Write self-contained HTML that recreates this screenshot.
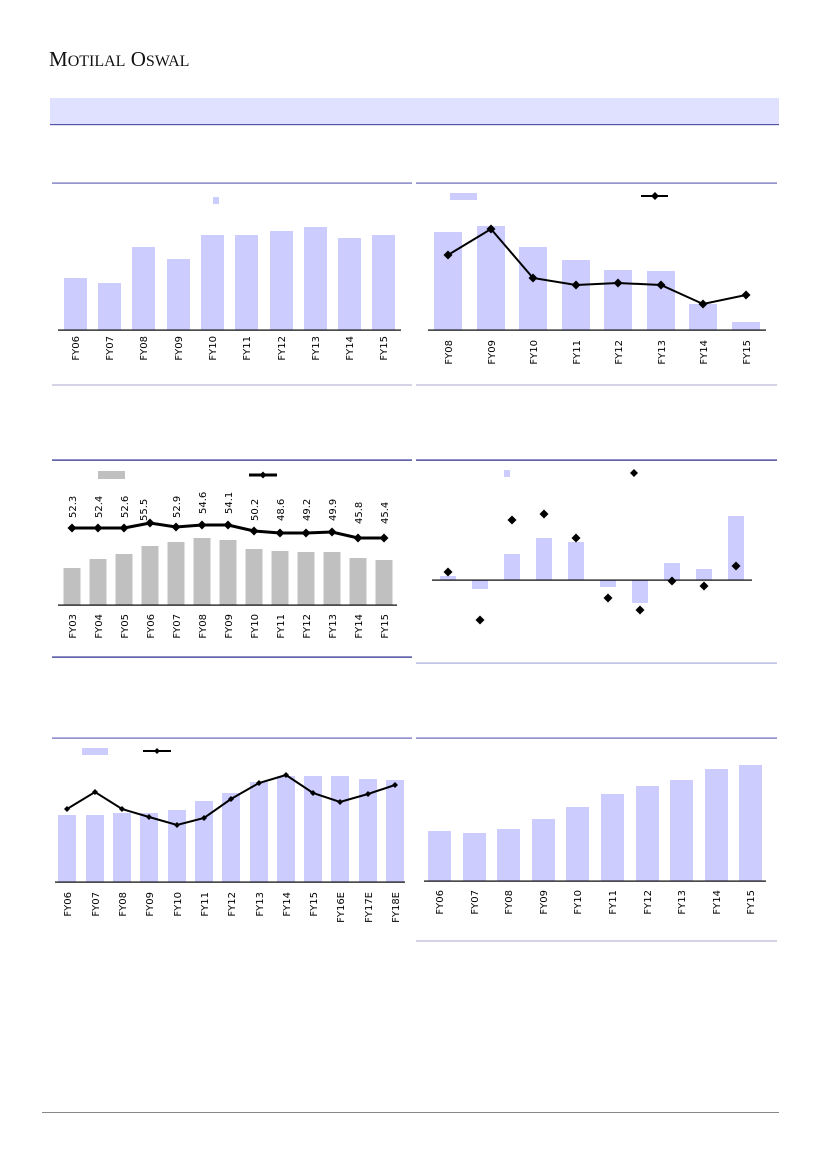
<!DOCTYPE html>
<html><head><meta charset="utf-8"><style>
html,body{margin:0;padding:0;background:#fff;}
svg{display:block;}
.l{font-family:"DejaVu Sans","Liberation Sans",sans-serif;font-size:10px;fill:#000;}
</style></head><body>
<svg width="827" height="1169" viewBox="0 0 827 1169" xmlns="http://www.w3.org/2000/svg">
<text x="49" y="66" font-family="Liberation Serif,serif" font-size="21" fill="#111">M<tspan font-size="16">OTILAL</tspan> O<tspan font-size="16">SWAL</tspan></text>
<rect x="50" y="98" width="729" height="26" fill="#e0e0ff"/>
<rect x="50" y="124" width="729" height="1.2" fill="#5555aa"/>
<rect x="42" y="1112" width="737" height="1" fill="#888"/>

<!-- Chart 1 -->
<rect x="52" y="182.5" width="360" height="1.2" fill="#6666bb"/>
<rect x="52" y="384.5" width="360" height="1" fill="#aaaacc"/>
<rect x="213" y="197" width="6" height="7" fill="#ccccff"/>
<g fill="#ccccff">
<rect x="64" y="278" width="23" height="52"/><rect x="98" y="283" width="23" height="47"/><rect x="132" y="247" width="23" height="83"/><rect x="167" y="259" width="23" height="71"/><rect x="201" y="235" width="23" height="95"/><rect x="235" y="235" width="23" height="95"/><rect x="270" y="231" width="23" height="99"/><rect x="304" y="227" width="23" height="103"/><rect x="338" y="238" width="23" height="92"/><rect x="372" y="235" width="23" height="95"/>
</g>
<rect x="58" y="329.5" width="343" height="1.2" fill="#000"/>
<g class="l" text-anchor="end">
<text transform="translate(79,336) rotate(-90)">FY06</text><text transform="translate(113,336) rotate(-90)">FY07</text><text transform="translate(147,336) rotate(-90)">FY08</text><text transform="translate(182,336) rotate(-90)">FY09</text><text transform="translate(216,336) rotate(-90)">FY10</text><text transform="translate(250,336) rotate(-90)">FY11</text><text transform="translate(285,336) rotate(-90)">FY12</text><text transform="translate(319,336) rotate(-90)">FY13</text><text transform="translate(353,336) rotate(-90)">FY14</text><text transform="translate(387,336) rotate(-90)">FY15</text>
</g>

<!-- Chart 2 -->
<rect x="416" y="182.5" width="361" height="1.2" fill="#6666bb"/>
<rect x="416" y="384.5" width="361" height="1" fill="#aaaacc"/>
<rect x="450" y="193" width="27" height="7" fill="#ccccff"/>
<line x1="641" y1="196" x2="668" y2="196" stroke="#000" stroke-width="2"/>
<path d="M655 192l4 4-4 4-4-4z" fill="#000"/>
<g fill="#ccccff">
<rect x="434" y="232" width="28" height="98"/><rect x="477" y="226" width="28" height="104"/><rect x="519" y="247" width="28" height="83"/><rect x="562" y="260" width="28" height="70"/><rect x="604" y="270" width="28" height="60"/><rect x="647" y="271" width="28" height="59"/><rect x="689" y="304" width="28" height="26"/><rect x="732" y="322" width="28" height="8"/>
</g>
<rect x="428" y="329.5" width="338" height="1.2" fill="#000"/>
<polyline points="448,255 491,229 533,278 576,285 618,283 661,285 703,304 746,295" fill="none" stroke="#000" stroke-width="2"/>
<g fill="#000"><path d="M448 250.5l4.5 4.5-4.5 4.5-4.5-4.5z"/><path d="M491 224.5l4.5 4.5-4.5 4.5-4.5-4.5z"/><path d="M533 273.5l4.5 4.5-4.5 4.5-4.5-4.5z"/><path d="M576 280.5l4.5 4.5-4.5 4.5-4.5-4.5z"/><path d="M618 278.5l4.5 4.5-4.5 4.5-4.5-4.5z"/><path d="M661 280.5l4.5 4.5-4.5 4.5-4.5-4.5z"/><path d="M703 299.5l4.5 4.5-4.5 4.5-4.5-4.5z"/><path d="M746 290.5l4.5 4.5-4.5 4.5-4.5-4.5z"/></g>
<g class="l" text-anchor="end">
<text transform="translate(452,340) rotate(-90)">FY08</text><text transform="translate(495,340) rotate(-90)">FY09</text><text transform="translate(537,340) rotate(-90)">FY10</text><text transform="translate(580,340) rotate(-90)">FY11</text><text transform="translate(622,340) rotate(-90)">FY12</text><text transform="translate(665,340) rotate(-90)">FY13</text><text transform="translate(707,340) rotate(-90)">FY14</text><text transform="translate(750,340) rotate(-90)">FY15</text>
</g>

<!-- Chart 3 -->
<rect x="52" y="459.5" width="360" height="1.2" fill="#222288"/>
<rect x="52" y="656.5" width="360" height="1.2" fill="#222288"/>
<rect x="98" y="471" width="27" height="8" fill="#c0c0c0"/>
<line x1="249" y1="475" x2="277" y2="475" stroke="#000" stroke-width="3"/>
<path d="M263 471.5l3.5 3.5-3.5 3.5-3.5-3.5z" fill="#000"/>
<g fill="#c0c0c0">
<rect x="63.5" y="568" width="17" height="37"/><rect x="89.5" y="559" width="17" height="46"/><rect x="115.5" y="554" width="17" height="51"/><rect x="141.5" y="546" width="17" height="59"/><rect x="167.5" y="542" width="17" height="63"/><rect x="193.5" y="538" width="17" height="67"/><rect x="219.5" y="540" width="17" height="65"/><rect x="245.5" y="549" width="17" height="56"/><rect x="271.5" y="551" width="17" height="54"/><rect x="297.5" y="552" width="17" height="53"/><rect x="323.5" y="552" width="17" height="53"/><rect x="349.5" y="558" width="17" height="47"/><rect x="375.5" y="560" width="17" height="45"/>
</g>
<rect x="58" y="604.5" width="339" height="1.2" fill="#000"/>
<polyline points="72,528 98,528 124,528 150,523 176,527 202,525 228,525 254,531 280,533 306,533 332,532 358,538 384,538" fill="none" stroke="#000" stroke-width="3"/>
<g fill="#000"><path d="M72 523.5l4.5 4.5-4.5 4.5-4.5-4.5z"/><path d="M98 523.5l4.5 4.5-4.5 4.5-4.5-4.5z"/><path d="M124 523.5l4.5 4.5-4.5 4.5-4.5-4.5z"/><path d="M150 518.5l4.5 4.5-4.5 4.5-4.5-4.5z"/><path d="M176 522.5l4.5 4.5-4.5 4.5-4.5-4.5z"/><path d="M202 520.5l4.5 4.5-4.5 4.5-4.5-4.5z"/><path d="M228 520.5l4.5 4.5-4.5 4.5-4.5-4.5z"/><path d="M254 526.5l4.5 4.5-4.5 4.5-4.5-4.5z"/><path d="M280 528.5l4.5 4.5-4.5 4.5-4.5-4.5z"/><path d="M306 528.5l4.5 4.5-4.5 4.5-4.5-4.5z"/><path d="M332 527.5l4.5 4.5-4.5 4.5-4.5-4.5z"/><path d="M358 533.5l4.5 4.5-4.5 4.5-4.5-4.5z"/><path d="M384 533.5l4.5 4.5-4.5 4.5-4.5-4.5z"/></g>
<g class="l" text-anchor="start">
<text transform="translate(76,518) rotate(-90)">52.3</text><text transform="translate(102,518) rotate(-90)">52.4</text><text transform="translate(128,518) rotate(-90)">52.6</text><text transform="translate(147,521) rotate(-90)">55.5</text><text transform="translate(180,518) rotate(-90)">52.9</text><text transform="translate(206,514) rotate(-90)">54.6</text><text transform="translate(232,514) rotate(-90)">54.1</text><text transform="translate(258,521) rotate(-90)">50.2</text><text transform="translate(284,521) rotate(-90)">48.6</text><text transform="translate(310,521) rotate(-90)">49.2</text><text transform="translate(336,521) rotate(-90)">49.9</text><text transform="translate(362,524) rotate(-90)">45.8</text><text transform="translate(388,524) rotate(-90)">45.4</text>
</g>
<g class="l" text-anchor="end">
<text transform="translate(76,614) rotate(-90)">FY03</text><text transform="translate(102,614) rotate(-90)">FY04</text><text transform="translate(128,614) rotate(-90)">FY05</text><text transform="translate(154,614) rotate(-90)">FY06</text><text transform="translate(180,614) rotate(-90)">FY07</text><text transform="translate(206,614) rotate(-90)">FY08</text><text transform="translate(232,614) rotate(-90)">FY09</text><text transform="translate(258,614) rotate(-90)">FY10</text><text transform="translate(284,614) rotate(-90)">FY11</text><text transform="translate(310,614) rotate(-90)">FY12</text><text transform="translate(336,614) rotate(-90)">FY13</text><text transform="translate(362,614) rotate(-90)">FY14</text><text transform="translate(388,614) rotate(-90)">FY15</text>
</g>

<!-- Chart 4 -->
<rect x="416" y="459.5" width="361" height="1.2" fill="#222288"/>
<rect x="416" y="662.5" width="361" height="1.2" fill="#aaaadd"/>
<rect x="504" y="470" width="6" height="7" fill="#ccccff"/>
<g fill="#ccccff">
<rect x="440" y="576" width="16" height="4"/><rect x="472" y="580" width="16" height="9"/><rect x="504" y="554" width="16" height="26"/><rect x="536" y="538" width="16" height="42"/><rect x="568" y="542" width="16" height="38"/><rect x="600" y="580" width="16" height="7"/><rect x="632" y="580" width="16" height="23"/><rect x="664" y="563" width="16" height="17"/><rect x="696" y="569" width="16" height="11"/><rect x="728" y="516" width="16" height="64"/>
</g>
<rect x="432" y="579.5" width="320" height="1.2" fill="#000"/>
<g fill="#000"><path d="M634 469l4 4-4 4-4-4z"/><path d="M448 567.5l4.5 4.5-4.5 4.5-4.5-4.5z"/><path d="M480 615.5l4.5 4.5-4.5 4.5-4.5-4.5z"/><path d="M512 515.5l4.5 4.5-4.5 4.5-4.5-4.5z"/><path d="M544 509.5l4.5 4.5-4.5 4.5-4.5-4.5z"/><path d="M576 533.5l4.5 4.5-4.5 4.5-4.5-4.5z"/><path d="M608 593.5l4.5 4.5-4.5 4.5-4.5-4.5z"/><path d="M640 605.5l4.5 4.5-4.5 4.5-4.5-4.5z"/><path d="M672 576.5l4.5 4.5-4.5 4.5-4.5-4.5z"/><path d="M704 581.5l4.5 4.5-4.5 4.5-4.5-4.5z"/><path d="M736 561.5l4.5 4.5-4.5 4.5-4.5-4.5z"/></g>

<!-- Chart 5 -->
<rect x="52" y="737.5" width="360" height="1.2" fill="#6666bb"/>
<rect x="82" y="748" width="26" height="7" fill="#ccccff"/>
<line x1="143" y1="751" x2="171" y2="751" stroke="#000" stroke-width="2"/>
<path d="M157 748l3 3-3 3-3-3z" fill="#000"/>
<g fill="#ccccff">
<rect x="58" y="815" width="18" height="67"/><rect x="86" y="815" width="18" height="67"/><rect x="113" y="813" width="18" height="69"/><rect x="140" y="813" width="18" height="69"/><rect x="168" y="810" width="18" height="72"/><rect x="195" y="801" width="18" height="81"/><rect x="222" y="793" width="18" height="89"/><rect x="250" y="782" width="18" height="100"/><rect x="277" y="776" width="18" height="106"/><rect x="304" y="776" width="18" height="106"/><rect x="331" y="776" width="18" height="106"/><rect x="359" y="779" width="18" height="103"/><rect x="386" y="780" width="18" height="102"/>
</g>
<rect x="55" y="881.5" width="350" height="1.2" fill="#000"/>
<polyline points="67,809 95,792 122,809 149,817 177,825 204,818 231,799 259,783 286,775 313,793 340,802 368,794 395,785" fill="none" stroke="#000" stroke-width="2"/>
<g fill="#000"><path d="M67 806l3 3-3 3-3-3z"/><path d="M95 789l3 3-3 3-3-3z"/><path d="M122 806l3 3-3 3-3-3z"/><path d="M149 814l3 3-3 3-3-3z"/><path d="M177 822l3 3-3 3-3-3z"/><path d="M204 815l3 3-3 3-3-3z"/><path d="M231 796l3 3-3 3-3-3z"/><path d="M259 780l3 3-3 3-3-3z"/><path d="M286 772l3 3-3 3-3-3z"/><path d="M313 790l3 3-3 3-3-3z"/><path d="M340 799l3 3-3 3-3-3z"/><path d="M368 791l3 3-3 3-3-3z"/><path d="M395 782l3 3-3 3-3-3z"/></g>
<g class="l" text-anchor="end">
<text transform="translate(71,892) rotate(-90)">FY06</text><text transform="translate(99,892) rotate(-90)">FY07</text><text transform="translate(126,892) rotate(-90)">FY08</text><text transform="translate(153,892) rotate(-90)">FY09</text><text transform="translate(181,892) rotate(-90)">FY10</text><text transform="translate(208,892) rotate(-90)">FY11</text><text transform="translate(235,892) rotate(-90)">FY12</text><text transform="translate(263,892) rotate(-90)">FY13</text><text transform="translate(290,892) rotate(-90)">FY14</text><text transform="translate(317,892) rotate(-90)">FY15</text><text transform="translate(344,892) rotate(-90)">FY16E</text><text transform="translate(372,892) rotate(-90)">FY17E</text><text transform="translate(399,892) rotate(-90)">FY18E</text>
</g>

<!-- Chart 6 -->
<rect x="416" y="737.5" width="361" height="1.2" fill="#6666bb"/>
<rect x="416" y="940.5" width="361" height="1" fill="#aaaacc"/>
<g fill="#ccccff">
<rect x="428" y="831" width="23" height="50"/><rect x="463" y="833" width="23" height="48"/><rect x="497" y="829" width="23" height="52"/><rect x="532" y="819" width="23" height="62"/><rect x="566" y="807" width="23" height="74"/><rect x="601" y="794" width="23" height="87"/><rect x="636" y="786" width="23" height="95"/><rect x="670" y="780" width="23" height="101"/><rect x="705" y="769" width="23" height="112"/><rect x="739" y="765" width="23" height="116"/>
</g>
<rect x="424" y="880.5" width="342" height="1.2" fill="#000"/>
<g class="l" text-anchor="end">
<text transform="translate(443,890) rotate(-90)">FY06</text><text transform="translate(478,890) rotate(-90)">FY07</text><text transform="translate(512,890) rotate(-90)">FY08</text><text transform="translate(547,890) rotate(-90)">FY09</text><text transform="translate(581,890) rotate(-90)">FY10</text><text transform="translate(616,890) rotate(-90)">FY11</text><text transform="translate(651,890) rotate(-90)">FY12</text><text transform="translate(685,890) rotate(-90)">FY13</text><text transform="translate(720,890) rotate(-90)">FY14</text><text transform="translate(754,890) rotate(-90)">FY15</text>
</g>
</svg>
</body></html>
